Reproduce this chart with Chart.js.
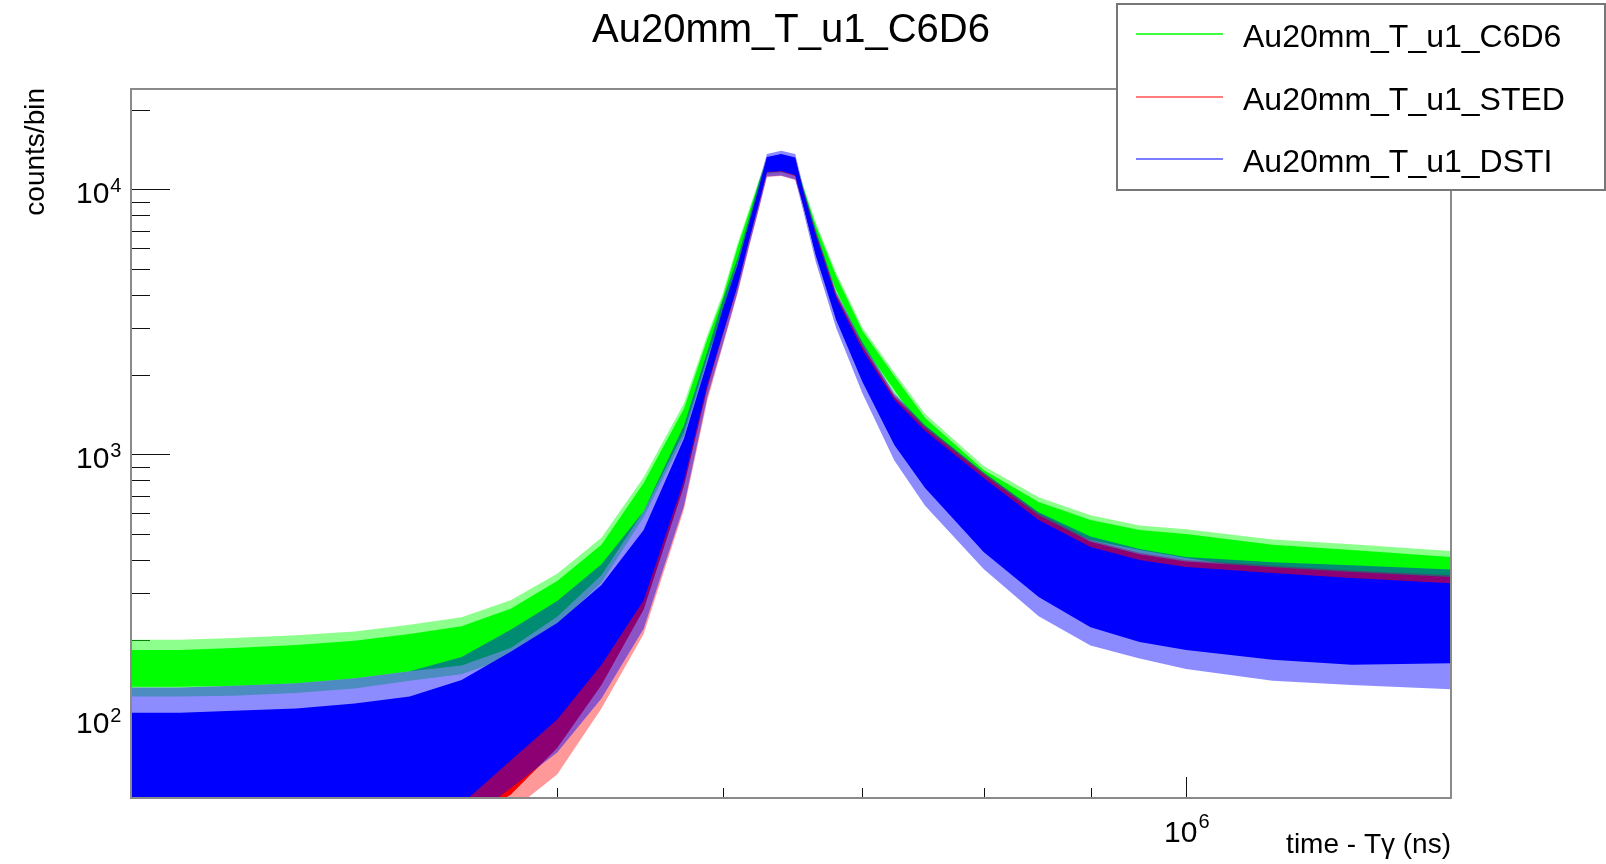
<!DOCTYPE html>
<html>
<head>
<meta charset="utf-8">
<script src="https://cdn.jsdelivr.net/npm/chart.js"></script>
<style>
  body { margin: 0; background: #fff; }
  #wrap { position: relative; width: 1606px; height: 864px; }
</style>
</head>
<body>
<div id="wrap"><canvas id="tofChart"></canvas></div>
<script>
// eixo x: tempo (ns)
const timeNs = [312600, 330000, 350000, 375000, 400000, 425000, 450000, 475000, 500000, 525000,
  550000, 575000, 590000, 600000, 610000, 618000, 625000, 630000, 640000, 650000,
  656000, 665000, 680000, 700000, 725000, 750000, 800000, 850000, 900000, 950000,
  1000000, 1100000, 1200000, 1339000];

// C6D6 (verde): faixa densa e faixa dos picos
const c6d6High = [183, 183, 186, 191, 198, 210, 225, 262, 333, 456, 780, 1490, 2728, 3896, 6067, 8298, 10860, 12700, 12900, 12550, 10040, 7284, 4720, 2924, 1978, 1373, 874, 662, 566, 519, 501, 456, 436, 410];
const c6d6Low = [133, 133, 134, 137, 143, 152, 160, 186, 244, 350, 610, 1220, 2333, 3340, 5280, 7345, 9786, 11700, 11850, 11650, 8890, 6448, 4170, 2590, 1751, 1195, 735, 566, 476, 436, 407, 363, 345, 327];
const c6d6SpikeHigh = [200, 200, 203, 208, 215, 228, 243, 282, 355, 485, 820, 1560, 2830, 4030, 6250, 8500, 11100, 13000, 13200, 12850, 10300, 7480, 4850, 3010, 2040, 1420, 905, 690, 590, 540, 522, 478, 458, 432];
const c6d6SpikeLow = [122, 122, 123, 126, 131, 140, 148, 172, 228, 328, 580, 1170, 2250, 3240, 5130, 7150, 9550, 11450, 11600, 11400, 8650, 6270, 4050, 2510, 1695, 1155, 710, 545, 458, 420, 392, 348, 330, 312];

// STED (vermelho), quase todo escondido pelo azul
const stedHigh = [95, 95, 97, 100, 104, 110, 128, 165, 215, 305, 500, 1120, 2200, 3480, 5150, 7500, 10300, 13100, 13400, 13000, 9800, 6800, 4000, 2560, 1650, 1260, 840, 590, 468, 420, 395, 375, 360, 345];
const stedLow = [25, 25, 25, 26, 28, 30, 40, 52, 78, 135, 260, 760, 1780, 2820, 4320, 6500, 9050, 11600, 11700, 11250, 8650, 5700, 3300, 1950, 1120, 770, 445, 300, 232, 205, 190, 175, 168, 170];
const stedSpikeHigh = [100, 100, 102, 105, 110, 117, 135, 175, 228, 318, 515, 1140, 2200, 3500, 5180, 7520, 10380, 13200, 13550, 13150, 9700, 6750, 4050, 2600, 1680, 1280, 855, 600, 475, 426, 400, 380, 365, 350];
const stedSpikeLow = [20, 20, 20, 20, 22, 25, 35, 45, 62, 110, 210, 620, 1600, 2550, 4050, 6150, 8650, 11150, 11250, 10850, 8600, 5650, 3250, 1900, 1100, 760, 440, 295, 228, 200, 186, 171, 164, 166];

// DSTI (azul)
const dstiHigh = [106, 106, 108, 110, 115, 122, 141, 180, 231, 322, 519, 1150, 2234, 3510, 5190, 7541, 10400, 13260, 13600, 13200, 9700, 6674, 3896, 2480, 1606, 1227, 815, 566, 448, 400, 376, 357, 342, 327];
const dstiLow = [30, 30, 30, 32, 34, 38, 48, 70, 100, 161, 282, 800, 1845, 2849, 4361, 6561, 9130, 11640, 11750, 11340, 8590, 5610, 3218, 1877, 1086, 747, 429, 290, 223, 196, 183, 168, 161, 163];
const dstiSpikeHigh = [132, 132, 134, 137, 143, 152, 172, 218, 280, 385, 610, 1290, 2450, 3800, 5500, 7900, 10900, 13600, 14000, 13600, 10100, 7000, 4100, 2650, 1700, 1290, 855, 605, 490, 440, 410, 392, 382, 368];
const dstiSpikeLow = [25, 25, 25, 25, 28, 30, 40, 55, 75, 120, 220, 640, 1650, 2600, 4100, 6200, 8700, 11200, 11300, 10900, 8200, 5300, 3000, 1700, 950, 640, 370, 245, 190, 170, 155, 140, 135, 130];

// marcas dos eixos
const yMajorTicks = [100, 1000, 10000];
const yTickExps = ["2", "3", "4"];
const yMinorTicks = [60, 70, 80, 90, 200, 300, 400, 500, 600, 700, 800, 900,
  2000, 3000, 4000, 5000, 6000, 7000, 8000, 9000, 20000];
const xMajorTicks = [1000000];
const xTickExps = ["6"];
const xMinorTicks = [400000, 500000, 600000, 700000, 800000, 900000];

const legendNames = ["Au20mm_T_u1_C6D6", "Au20mm_T_u1_STED", "Au20mm_T_u1_DSTI"];
const legendColors = ["#00ff00", "#ff5050", "#5050ff"];

const FONT = "'Liberation Sans', Arial, sans-serif";

function toPoints(values) {
    return values.map((v, i) => ({ x: timeNs[i], y: v }));
}

// faixa entre duas curvas (alto preenche até o baixo)
function band(high, low, color) {
    return [
        { data: toPoints(high), borderWidth: 0, pointRadius: 0, fill: "+1", backgroundColor: color },
        { data: toPoints(low), borderWidth: 0, pointRadius: 0, fill: false }
    ];
}

// escreve "10" com expoente
function drawPower(ctx, exp, x, baseY, supY) {
    ctx.font = "30px " + FONT;
    ctx.textAlign = "left";
    ctx.fillText("10", x, baseY);
    const w = ctx.measureText("10").width;
    ctx.font = "20px " + FONT;
    ctx.fillText(exp, x + w + 1, supY);
}

const rootDecor = {
    id: "rootDecor",
    beforeDatasetsDraw(chart) {
        const { ctx, chartArea: a } = chart;
        const xs = chart.scales.x, ys = chart.scales.y;
        ctx.save();
        ctx.strokeStyle = "#111";
        ctx.lineWidth = 1;
        ctx.beginPath();
        yMajorTicks.forEach(v => {
            const p = Math.round(ys.getPixelForValue(v)) + 0.5;
            ctx.moveTo(a.left, p); ctx.lineTo(a.left + 39, p);
        });
        yMinorTicks.forEach(v => {
            const p = Math.round(ys.getPixelForValue(v)) + 0.5;
            ctx.moveTo(a.left, p); ctx.lineTo(a.left + 19, p);
        });
        xMajorTicks.forEach(v => {
            const p = Math.round(xs.getPixelForValue(v)) + 0.5;
            ctx.moveTo(p, a.bottom); ctx.lineTo(p, a.bottom - 21);
        });
        xMinorTicks.forEach(v => {
            const p = Math.round(xs.getPixelForValue(v)) + 0.5;
            ctx.moveTo(p, a.bottom); ctx.lineTo(p, a.bottom - 10);
        });
        ctx.stroke();
        ctx.restore();
    },
    afterDraw(chart) {
        const { ctx, chartArea: a } = chart;
        const xs = chart.scales.x, ys = chart.scales.y;
        ctx.save();

        // moldura
        ctx.strokeStyle = "#8a8a8a";
        ctx.lineWidth = 2;
        ctx.strokeRect(a.left, a.top, a.right - a.left, a.bottom - a.top);

        // rótulos
        ctx.fillStyle = "#000";
        ctx.textBaseline = "alphabetic";
        yMajorTicks.forEach((v, i) => {
            const p = ys.getPixelForValue(v);
            drawPower(ctx, yTickExps[i], 76, p + 14, p + 3);
        });
        xMajorTicks.forEach((v, i) => {
            const p = xs.getPixelForValue(v);
            drawPower(ctx, xTickExps[i], p - 22, 842, 828);
        });

        // títulos dos eixos
        ctx.font = "28px " + FONT;
        ctx.textAlign = "right";
        ctx.fillText("time - T\u03b3 (ns)", a.right, 853);
        ctx.save();
        ctx.translate(44, a.top - 1);
        ctx.rotate(-Math.PI / 2);
        ctx.fillText("counts/bin", 0, 0);
        ctx.restore();

        // título
        ctx.font = "40px " + FONT;
        ctx.textAlign = "center";
        ctx.fillText("Au20mm_T_u1_C6D6", (a.left + a.right) / 2, 42);

        // legenda
        ctx.fillStyle = "#fff";
        ctx.fillRect(1117, 4, 489, 186);
        ctx.strokeStyle = "#777";
        ctx.lineWidth = 2;
        ctx.strokeRect(1117, 4, 488, 186);
        const rows = [34, 97, 159];
        ctx.font = "32px " + FONT;
        ctx.textAlign = "left";
        legendNames.forEach((name, i) => {
            ctx.strokeStyle = legendColors[i];
            ctx.lineWidth = 1.5;
            ctx.beginPath();
            ctx.moveTo(1136, rows[i]); ctx.lineTo(1223, rows[i]);
            ctx.stroke();
            ctx.fillStyle = "#000";
            ctx.fillText(name, 1243, rows[i] + 13);
        });
        ctx.restore();
    }
};

// azul por cima, depois vermelho, verde por baixo
const datasets = [
    ...band(dstiHigh, dstiLow, "#0000ff"),
    ...band(dstiSpikeHigh, dstiSpikeLow, "rgba(0,0,255,0.45)"),
    ...band(stedHigh, stedLow, "#ff0000"),
    ...band(stedSpikeHigh, stedSpikeLow, "rgba(255,0,0,0.4)"),
    ...band(c6d6High, c6d6Low, "#00ff00"),
    ...band(c6d6SpikeHigh, c6d6SpikeLow, "rgba(0,255,0,0.45)")
];

new Chart(document.getElementById("tofChart").getContext("2d"), {
    type: "line",
    data: { datasets: datasets },
    options: {
        responsive: true,
        maintainAspectRatio: false,
        animation: false,
        events: [],
        layout: { padding: { left: 131, right: 155, top: 89, bottom: 66 } },
        elements: { line: { tension: 0 } },
        plugins: {
            legend: { display: false },
            tooltip: { enabled: false },
            filler: { propagate: false }
        },
        scales: {
            x: { type: "logarithmic", min: 312600, max: 1339000, display: false },
            y: { type: "logarithmic", min: 50.55, max: 23940, display: false }
        }
    },
    plugins: [rootDecor]
});
</script>
</body>
</html>
